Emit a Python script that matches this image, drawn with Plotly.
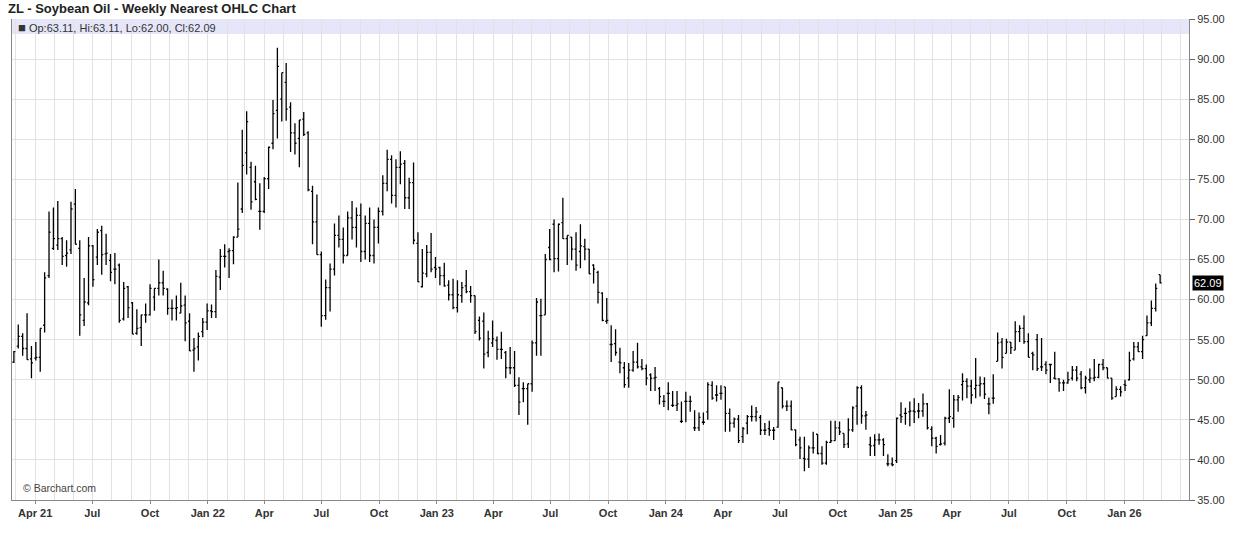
import pandas as pd
import plotly.graph_objects as go

# Weekly OHLC values (Friday-dated weeks, first bar 2021-02-26)
opens = [
    52.2, 54.2, 55.4, 53.9, 52.6, 52.7, 52.8, 56.8, 63.0, 66.4,
    66.8, 67.6, 65.5, 66.2, 71.9, 66.4, 57.4, 59.6, 66.7, 65.3,
    68.6, 65.7, 64.9, 63.8, 64.3, 57.6, 61.6, 59.6, 55.8, 56.5,
    58.1, 58.1, 60.3, 61.4, 62.1, 61.3, 58.9, 58.9, 58.3, 59.3,
    57.3, 53.7, 54.1, 56.0, 57.2, 58.6, 58.5, 62.8, 65.4, 66.0,
    66.1, 67.8, 71.3, 78.3, 76.5, 74.7, 71.0, 71.0, 75.1, 79.5,
    83.6, 85.0, 87.1, 84.0, 80.8, 80.1, 82.5, 80.8, 73.5, 69.7,
    65.6, 58.0, 61.5, 63.8, 68.0, 67.5, 65.5, 70.2, 69.0, 70.5,
    66.0, 69.5, 65.5, 69.0, 71.0, 74.5, 77.5, 73.0, 76.5, 77.0,
    72.7, 74.6, 67.0, 61.6, 63.2, 65.9, 64.0, 64.0, 63.0, 61.8,
    60.6, 59.0, 60.5, 61.7, 61.0, 60.5, 57.4, 57.3, 53.4, 54.6,
    54.9, 53.8, 53.4, 51.5, 51.5, 49.3, 48.9, 48.9, 49.5, 54.6,
    58.0, 58.1, 66.5, 69.4, 65.1, 69.6, 67.6, 67.8, 66.3, 66.0,
    66.6, 66.3, 64.3, 63.4, 60.8, 57.3, 54.4, 54.5, 52.2, 51.5,
    50.2, 51.2, 52.2, 51.6, 51.4, 50.6, 50.2, 48.9, 47.3, 48.3,
    46.8, 46.8, 44.8, 47.3, 47.3, 44.0, 44.0, 44.7, 46.0, 49.3,
    48.1, 48.3, 49.1, 45.8, 44.6, 45.1, 42.9, 44.6, 45.4, 45.4,
    45.3, 43.7, 43.9, 43.7, 44.1, 49.0, 46.7, 46.7, 43.75, 42.5,
    40.2, 40.1, 41.5, 43.2, 40.8, 39.6, 42.2, 42.4, 44.0, 43.3,
    42.0, 43.75, 46.7, 49.0, 45.5, 41.9, 41.8, 42.5, 42.5, 39.5,
    39.5, 39.9, 45.6, 45.8, 46.0, 46.1, 46.1, 46.1, 47.0, 43.8,
    42.7, 41.9, 42.1, 45.2, 45.2, 47.5, 49.4, 49.8, 49.2, 48.9,
    49.3, 49.5, 47.0, 47.7, 52.3, 54.7, 53.3, 54.7, 53.7, 56.0,
    56.4, 54.75, 53.3, 55.0, 51.6, 51.9, 51.9, 50.2, 50.1, 49.6,
    49.6, 50.2, 51.2, 50.7, 49.0, 50.0, 50.2, 50.3, 51.9, 51.5,
    50.2, 47.9, 48.8, 49.4, 50.0, 52.6, 54.1, 53.5, 55.5, 57.1,
    58.9, 63.11,
]
highs = [
    53.6, 56.9, 55.8, 58.3, 54.2, 54.7, 56.4, 63.4, 71.0, 71.5,
    72.3, 67.8, 67.4, 72.2, 73.8, 67.4, 62.7, 67.8, 66.8, 68.8,
    69.2, 68.2, 65.7, 65.8, 64.5, 62.2, 61.7, 59.7, 58.8, 58.1,
    59.5, 61.9, 61.4, 65.0, 63.6, 61.4, 60.0, 60.5, 62.1, 60.5,
    58.3, 55.2, 55.9, 57.7, 59.5, 59.4, 63.7, 66.3, 66.9, 66.4,
    67.9, 74.6, 81.2, 83.5, 77.2, 76.7, 74.5, 75.3, 79.1, 84.9,
    91.4, 88.3, 89.5, 84.6, 82.0, 82.4, 83.4, 81.0, 74.2, 73.1,
    66.0, 62.5, 64.5, 69.5, 70.5, 69.0, 71.0, 72.3, 71.5, 72.0,
    70.5, 71.5, 70.0, 71.5, 75.5, 78.7, 78.0, 77.5, 78.5, 77.4,
    75.2, 77.1, 68.4, 66.3, 66.8, 68.3, 65.3, 64.1, 64.6, 62.4,
    62.6, 62.4, 62.2, 63.7, 61.7, 60.5, 57.9, 58.4, 56.1, 57.4,
    55.4, 56.0, 53.6, 54.1, 53.6, 50.3, 49.7, 49.5, 54.9, 60.2,
    60.1, 65.7, 68.8, 70.0, 69.5, 72.7, 68.0, 67.8, 68.4, 69.4,
    67.6, 66.3, 64.4, 63.6, 60.9, 60.2, 56.8, 56.3, 54.0, 52.2,
    52.1, 53.6, 54.6, 52.6, 51.9, 50.8, 51.6, 49.1, 48.1, 49.7,
    48.6, 48.6, 47.3, 48.5, 48.0, 46.2, 45.9, 45.9, 49.7, 49.8,
    49.3, 49.3, 49.1, 46.4, 45.3, 45.6, 44.1, 45.6, 46.8, 46.6,
    45.6, 44.6, 44.9, 44.1, 49.7, 49.0, 47.4, 47.4, 43.8, 42.9,
    42.9, 41.8, 43.5, 43.2, 41.7, 42.4, 44.9, 44.9, 44.8, 43.3,
    45.2, 46.7, 49.2, 49.3, 46.1, 42.9, 43.2, 43.3, 42.7, 40.7,
    40.3, 45.3, 47.2, 46.5, 47.3, 47.7, 47.1, 48.3, 47.1, 44.2,
    42.9, 43.1, 45.4, 48.8, 48.1, 48.1, 50.8, 50.2, 50.0, 52.7,
    50.4, 50.3, 47.8, 50.7, 55.9, 55.2, 55.1, 54.7, 57.3, 56.8,
    58.0, 55.8, 53.5, 55.7, 55.2, 52.3, 52.0, 53.5, 50.2, 50.0,
    51.0, 51.7, 51.7, 51.1, 50.5, 51.4, 52.6, 52.0, 52.6, 51.5,
    50.2, 49.2, 49.2, 50.0, 53.5, 54.7, 54.7, 55.5, 58.0, 59.9,
    62.0, 63.11,
]
lows = [
    52.1, 53.9, 53.0, 52.5, 50.2, 52.4, 51.0, 55.9, 62.7, 66.2,
    66.2, 64.3, 64.1, 65.7, 66.9, 55.5, 56.7, 59.3, 61.6, 64.3,
    63.1, 64.3, 62.3, 61.9, 57.1, 57.4, 57.7, 55.7, 55.6, 54.2,
    57.1, 58.0, 58.6, 60.5, 60.5, 58.1, 57.4, 57.4, 58.3, 54.8,
    53.6, 51.0, 52.4, 55.3, 56.2, 57.7, 57.7, 61.2, 64.0, 62.7,
    64.4, 67.8, 70.8, 75.6, 71.2, 72.4, 68.7, 70.8, 73.8, 78.75,
    80.1, 82.2, 82.3, 78.4, 78.1, 76.5, 80.4, 73.5, 66.9, 65.6,
    56.6, 57.5, 58.5, 63.0, 66.5, 64.5, 65.5, 67.5, 66.5, 64.7,
    65.0, 64.7, 64.5, 67.0, 70.5, 73.5, 72.0, 71.5, 74.4, 71.3,
    71.3, 66.9, 62.2, 61.5, 62.8, 63.4, 62.7, 61.8, 61.6, 59.9,
    58.8, 58.4, 59.6, 60.8, 59.6, 55.7, 54.9, 51.4, 52.8, 54.1,
    52.5, 52.6, 50.2, 50.7, 49.1, 45.6, 47.2, 44.4, 48.5, 53.0,
    53.0, 58.1, 64.9, 63.4, 63.5, 67.6, 64.3, 64.9, 63.6, 63.9,
    64.9, 63.2, 62.0, 59.5, 57.3, 57.0, 52.2, 53.0, 50.8, 49.0,
    49.0, 51.0, 51.4, 51.2, 49.3, 48.6, 48.6, 46.9, 46.6, 46.2,
    46.6, 46.1, 44.6, 44.7, 46.0, 43.6, 43.6, 44.4, 45.0, 47.5,
    47.3, 47.5, 43.5, 43.5, 44.0, 42.1, 42.1, 43.2, 44.8, 44.8,
    43.1, 43.1, 43.0, 42.5, 44.0, 46.4, 46.1, 43.7, 41.7, 40.1,
    38.6, 39.0, 40.8, 40.7, 39.4, 39.4, 42.1, 42.4, 43.1, 41.5,
    41.5, 43.5, 44.4, 44.5, 43.75, 40.5, 40.5, 41.9, 40.5, 39.2,
    39.2, 39.6, 44.6, 44.4, 44.2, 44.6, 45.2, 45.4, 43.8, 41.7,
    40.8, 41.8, 41.8, 44.6, 44.0, 46.0, 47.4, 47.7, 47.0, 47.7,
    47.9, 47.6, 45.7, 47.0, 52.3, 51.4, 53.3, 53.2, 53.7, 54.7,
    54.5, 52.8, 51.2, 51.1, 51.1, 50.7, 49.6, 50.1, 48.5, 48.6,
    49.5, 49.9, 49.8, 48.8, 48.3, 49.6, 49.8, 50.2, 51.2, 50.2,
    47.5, 47.9, 47.9, 48.6, 49.9, 52.4, 53.5, 52.6, 55.5, 56.7,
    58.5, 62.00,
]
closes = [
    53.5, 55.4, 53.9, 52.5, 52.1, 52.8, 56.4, 62.7, 68.4, 67.6,
    67.6, 65.4, 65.8, 71.3, 66.9, 58.1, 59.7, 66.7, 62.5, 68.4,
    65.6, 65.8, 63.4, 63.8, 57.4, 61.4, 59.0, 55.7, 56.4, 58.1,
    58.1, 61.4, 61.4, 62.1, 61.4, 58.9, 58.9, 59.0, 59.2, 57.1,
    53.6, 53.9, 55.4, 57.2, 58.6, 58.5, 62.9, 65.4, 65.4, 66.1,
    67.8, 68.8, 76.75, 82.2, 72.2, 72.5, 71.0, 75.1, 79.0, 83.2,
    89.1, 88.3, 83.75, 80.8, 79.5, 82.4, 80.6, 73.7, 69.7, 65.6,
    58.0, 61.5, 63.8, 68.0, 67.5, 65.5, 70.2, 69.0, 70.5, 66.0,
    69.5, 65.5, 69.0, 71.0, 74.5, 77.5, 73.0, 76.5, 76.9, 72.7,
    74.6, 67.4, 62.2, 63.3, 65.9, 63.8, 63.8, 63.0, 61.7, 60.6,
    59.0, 60.6, 61.5, 61.0, 60.5, 56.0, 55.2, 53.2, 55.1, 55.1,
    53.8, 53.8, 51.5, 51.5, 49.3, 47.2, 48.9, 49.5, 54.6, 59.7,
    58.0, 65.0, 65.0, 65.1, 69.4, 67.6, 68.0, 66.3, 64.3, 66.7,
    66.3, 63.2, 63.8, 60.9, 57.4, 57.4, 54.4, 53.4, 52.1, 49.4,
    51.2, 52.2, 51.6, 51.4, 50.2, 50.2, 50.3, 47.9, 47.3, 48.3,
    46.8, 47.0, 44.8, 47.3, 47.3, 44.0, 45.3, 44.7, 49.4, 47.7,
    48.1, 48.3, 45.8, 44.6, 45.1, 42.4, 43.9, 45.4, 45.4, 46.0,
    43.7, 43.7, 43.7, 43.7, 49.7, 46.7, 46.7, 43.75, 41.9, 41.5,
    40.1, 41.5, 41.5, 40.8, 39.6, 42.2, 42.4, 44.0, 43.5, 41.9,
    43.75, 46.5, 49.0, 45.5, 45.6, 41.75, 42.5, 42.5, 41.9, 39.5,
    39.4, 45.2, 45.4, 45.8, 46.1, 46.0, 46.1, 47.0, 44.0, 42.7,
    41.7, 42.0, 45.2, 45.4, 47.5, 47.8, 49.8, 49.2, 48.1, 49.3,
    49.5, 48.2, 47.0, 47.7, 54.6, 52.8, 54.7, 54.0, 56.0, 56.4,
    54.75, 52.8, 53.1, 51.4, 51.6, 51.2, 51.9, 50.1, 49.6, 49.6,
    50.0, 51.2, 50.2, 49.0, 50.2, 50.2, 50.3, 51.9, 51.5, 50.2,
    47.7, 48.8, 48.5, 49.3, 52.4, 54.1, 53.5, 55.0, 57.1, 58.9,
    61.4, 62.09,
]
dates = pd.date_range("2021-02-26", periods=len(opens), freq="W-FRI")

tick_dates = pd.date_range("2021-04-01", "2026-01-01", freq="QS-JAN")
tick_labels = ["Apr 21", "Jul", "Oct", "Jan 22", "Apr", "Jul", "Oct", "Jan 23",
               "Apr", "Jul", "Oct", "Jan 24", "Apr", "Jul", "Oct", "Jan 25",
               "Apr", "Jul", "Oct", "Jan 26"]
month_lines = pd.date_range("2021-03-01", "2026-04-01", freq="MS")

title_text = "ZL - Soybean Oil - Weekly Nearest OHLC Chart"
legend_text = "Op:63.11, Hi:63.11, Lo:62.00, Cl:62.09"
last_close = closes[-1]

FONT = "Liberation Sans, Arial, sans-serif"
GRID = "#e2e2e2"

fig = go.Figure()
fig.add_trace(go.Ohlc(
    x=dates, open=opens, high=highs, low=lows, close=closes,
    increasing=dict(line=dict(color="#000000", width=1.3)),
    decreasing=dict(line=dict(color="#000000", width=1.3)),
    tickwidth=0.35, showlegend=False, hoverinfo="skip",
))

W, H = 1236, 542
ml, mr, mt, mb = 11, 44, 19, 42
pw, ph = W - ml - mr, H - mt - mb

fig.update_layout(
    width=W, height=H,
    margin=dict(l=ml, r=mr, t=mt, b=mb, pad=0),
    paper_bgcolor="white", plot_bgcolor="white",
    font=dict(family=FONT, color="#333333", size=11),
    showlegend=False,
    title=dict(text="<b>" + title_text + "</b>", x=8 / W, xanchor="left",
               xref="container", y=1 - 8.5 / H, yanchor="middle", yref="container",
               font=dict(family=FONT, size=13, color="#222222")),
)
fig.update_xaxes(
    type="date", range=["2021-02-23 00:00", "2026-04-14 00:00"],
    rangeslider=dict(visible=False),
    tickvals=list(tick_dates), ticktext=tick_labels,
    tickfont=dict(family=FONT, size=11, color="#333333", weight="bold"),
    ticks="outside", ticklen=3, tickcolor="#888888",
    showgrid=True, gridcolor=GRID, gridwidth=1,
    minor=dict(tickvals=list(month_lines), showgrid=True, gridcolor=GRID, gridwidth=1, ticks=""),
    showline=True, linecolor="#888888", linewidth=1,
    zeroline=False, fixedrange=True,
)
fig.update_yaxes(
    side="right", range=[35, 95], dtick=5, tick0=35, tickformat=".2f",
    tickfont=dict(family=FONT, size=11, color="#333333"),
    ticks="outside", ticklen=5, tickcolor="#666666",
    showgrid=True, gridcolor=GRID, gridwidth=1,
    showline=True, linecolor="#888888", linewidth=1, mirror=True,
    zeroline=False, fixedrange=True,
)

# lavender header band inside top of plot
fig.add_shape(type="rect", xref="paper", yref="paper", x0=0, x1=1,
              y0=1 - 15 / ph, y1=1, fillcolor="#e6e6fa", line=dict(width=0),
              layer="below")
fig.add_annotation(xref="paper", yref="paper", x=4 / pw, y=1 - 8 / ph,
                   xanchor="left", yanchor="middle", showarrow=False,
                   text="<span style='font-size:13px'>■</span> " + legend_text,
                   font=dict(family=FONT, size=11, color="#333333"))
fig.add_annotation(xref="paper", yref="paper", x=9 / pw, y=12 / ph,
                   xanchor="left", yanchor="middle", showarrow=False,
                   text="© Barchart.com", font=dict(family=FONT, size=10.5, color="#444444"))
fig.add_annotation(xref="paper", yref="y", x=1, y=last_close, xshift=3,
                   xanchor="left", yanchor="middle", showarrow=False,
                   text=f"{last_close:.2f}", bgcolor="#000000", borderpad=1,
                   font=dict(family=FONT, size=11, color="#ffffff"))

fig.write_html("out.html", config={"displayModeBar": False},
               post_script="document.body.style.margin='0px';")
